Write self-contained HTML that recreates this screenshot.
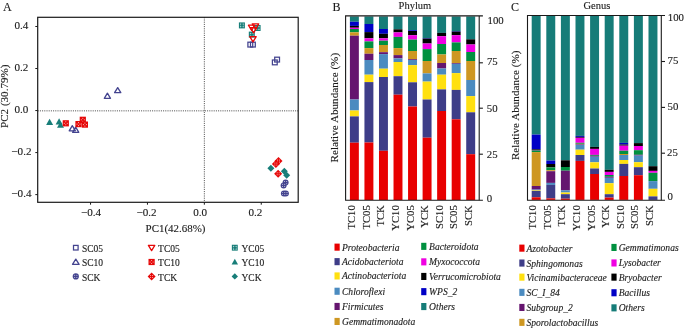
<!DOCTYPE html><html><head><meta charset="utf-8"><title>Figure</title>
<style>html,body{margin:0;padding:0;background:#fff;}svg{display:block;will-change:transform;}text{font-family:"Liberation Serif",serif;stroke:#222;stroke-width:0.12px;paint-order:stroke;}</style></head><body>
<svg width="685" height="329" viewBox="0 0 685 329">
<rect width="685" height="329" fill="#fff"/>
<text x="3.0" y="11.2" font-size="12" text-anchor="start" fill="#1a1a1a">A</text>
<line x1="37.7" y1="110.85" x2="298.2" y2="110.85" stroke="#333" stroke-width="0.9" stroke-dasharray="1,1.2"/>
<line x1="204.35" y1="17.3" x2="204.35" y2="202.3" stroke="#333" stroke-width="0.9" stroke-dasharray="1,1.2"/>
<rect x="37.7" y="17.3" width="260.5" height="185.0" fill="none" stroke="#1a1a1a" stroke-width="1.2"/>
<line x1="35.300000000000004" y1="26.489999999999995" x2="37.7" y2="26.489999999999995" stroke="#1a1a1a" stroke-width="1"/>
<text x="21.4" y="29.19" font-size="11.1" text-anchor="middle" fill="#1a1a1a">0.4</text>
<line x1="35.300000000000004" y1="68.52" x2="37.7" y2="68.52" stroke="#1a1a1a" stroke-width="1"/>
<text x="21.4" y="71.22" font-size="11.1" text-anchor="middle" fill="#1a1a1a">0.2</text>
<line x1="35.300000000000004" y1="110.55" x2="37.7" y2="110.55" stroke="#1a1a1a" stroke-width="1"/>
<text x="21.4" y="113.25" font-size="11.1" text-anchor="middle" fill="#1a1a1a">0.0</text>
<line x1="35.300000000000004" y1="152.57999999999998" x2="37.7" y2="152.57999999999998" stroke="#1a1a1a" stroke-width="1"/>
<text x="21.4" y="155.28" font-size="11.1" text-anchor="middle" fill="#1a1a1a">−0.2</text>
<line x1="35.300000000000004" y1="194.61" x2="37.7" y2="194.61" stroke="#1a1a1a" stroke-width="1"/>
<text x="21.4" y="197.31" font-size="11.1" text-anchor="middle" fill="#1a1a1a">−0.4</text>
<line x1="90.55" y1="202.3" x2="90.55" y2="204.70000000000002" stroke="#1a1a1a" stroke-width="1"/>
<text x="91.1" y="216.4" font-size="11.1" text-anchor="middle" fill="#1a1a1a">−0.4</text>
<line x1="147.45" y1="202.3" x2="147.45" y2="204.70000000000002" stroke="#1a1a1a" stroke-width="1"/>
<text x="146.5" y="216.4" font-size="11.1" text-anchor="middle" fill="#1a1a1a">−0.2</text>
<line x1="204.35" y1="202.3" x2="204.35" y2="204.70000000000002" stroke="#1a1a1a" stroke-width="1"/>
<text x="200.2" y="216.4" font-size="11.1" text-anchor="middle" fill="#1a1a1a">0.0</text>
<line x1="261.25" y1="202.3" x2="261.25" y2="204.70000000000002" stroke="#1a1a1a" stroke-width="1"/>
<text x="255.4" y="216.4" font-size="11.1" text-anchor="middle" fill="#1a1a1a">0.2</text>
<text x="145.6" y="231.7" font-size="10.95" text-anchor="start" fill="#1a1a1a">PC1(42.68%)</text>
<text x="8.2" y="128.0" font-size="11.1" text-anchor="start" transform="rotate(-90 8.2 128.0)" fill="#1a1a1a">PC2 (30.79%)</text>
<rect x="247.9" y="42.2" width="4.8" height="4.8" fill="#fff" fill-opacity="0" stroke="#43438f" stroke-width="1.25"/>
<rect x="250.5" y="42.2" width="4.8" height="4.8" fill="#fff" fill-opacity="0" stroke="#43438f" stroke-width="1.25"/>
<rect x="272.40000000000003" y="60.0" width="4.8" height="4.8" fill="#fff" fill-opacity="0" stroke="#43438f" stroke-width="1.25"/>
<rect x="274.70000000000005" y="57.2" width="4.8" height="4.8" fill="#fff" fill-opacity="0" stroke="#43438f" stroke-width="1.25"/>
<rect x="238.9" y="22.4" width="6.0" height="6.0" fill="#187e79"/>
<rect x="240.5" y="24.0" width="2.8" height="2.8" fill="none" stroke="#fff" stroke-width="0.4" stroke-opacity="0.35"/>
<circle cx="240.50" cy="24.00" r="0.55" fill="#fff" fill-opacity="0.8"/>
<circle cx="243.30" cy="24.00" r="0.55" fill="#fff" fill-opacity="0.8"/>
<circle cx="240.50" cy="26.80" r="0.55" fill="#fff" fill-opacity="0.8"/>
<circle cx="243.30" cy="26.80" r="0.55" fill="#fff" fill-opacity="0.8"/>
<rect x="254.60000000000002" y="25.0" width="6.0" height="6.0" fill="#187e79"/>
<rect x="256.20000000000005" y="26.6" width="2.8" height="2.8" fill="none" stroke="#fff" stroke-width="0.4" stroke-opacity="0.35"/>
<circle cx="256.20" cy="26.60" r="0.55" fill="#fff" fill-opacity="0.8"/>
<circle cx="259.00" cy="26.60" r="0.55" fill="#fff" fill-opacity="0.8"/>
<circle cx="256.20" cy="29.40" r="0.55" fill="#fff" fill-opacity="0.8"/>
<circle cx="259.00" cy="29.40" r="0.55" fill="#fff" fill-opacity="0.8"/>
<rect x="248.8" y="31.6" width="6.0" height="6.0" fill="#187e79"/>
<rect x="250.4" y="33.2" width="2.8" height="2.8" fill="none" stroke="#fff" stroke-width="0.4" stroke-opacity="0.35"/>
<circle cx="250.40" cy="33.20" r="0.55" fill="#fff" fill-opacity="0.8"/>
<circle cx="253.20" cy="33.20" r="0.55" fill="#fff" fill-opacity="0.8"/>
<circle cx="250.40" cy="36.00" r="0.55" fill="#fff" fill-opacity="0.8"/>
<circle cx="253.20" cy="36.00" r="0.55" fill="#fff" fill-opacity="0.8"/>
<path d="M248.4 25.215000000000003 L254.79999999999998 25.215000000000003 L251.6 30.515 Z" fill="none" stroke="#e60808" stroke-width="1.3" stroke-linejoin="round"/>
<path d="M252.3 23.814999999999998 L258.7 23.814999999999998 L255.5 29.115 Z" fill="none" stroke="#e60808" stroke-width="1.3" stroke-linejoin="round"/>
<path d="M250.4 27.615000000000002 L256.8 27.615000000000002 L253.6 32.915 Z" fill="none" stroke="#e60808" stroke-width="1.3" stroke-linejoin="round"/>
<path d="M249.8 36.615 L256.2 36.615 L253.0 41.915 Z" fill="none" stroke="#e60808" stroke-width="1.3" stroke-linejoin="round"/>
<path d="M107.4 93.195 L110.5 98.295 L104.30000000000001 98.295 Z" fill="none" stroke="#43438f" stroke-width="1.3" stroke-linejoin="round"/>
<path d="M117.7 87.595 L120.8 92.69500000000001 L114.60000000000001 92.69500000000001 Z" fill="none" stroke="#43438f" stroke-width="1.3" stroke-linejoin="round"/>
<path d="M72.3 125.695 L75.39999999999999 130.795 L69.2 130.795 Z" fill="none" stroke="#43438f" stroke-width="1.3" stroke-linejoin="round"/>
<path d="M75.7 127.195 L78.8 132.295 L72.60000000000001 132.295 Z" fill="none" stroke="#43438f" stroke-width="1.3" stroke-linejoin="round"/>
<path d="M49.6 118.69 L53.1 124.89 L46.1 124.89 Z" fill="#187e79"/>
<path d="M59.1 118.19 L62.6 124.39 L55.6 124.39 Z" fill="#187e79"/>
<path d="M60.5 121.49000000000001 L64.0 127.69000000000001 L57.0 127.69000000000001 Z" fill="#187e79"/>
<rect x="62.699999999999996" y="120.2" width="6.2" height="6.2" fill="#e60808"/>
<circle cx="65.80" cy="121.80" r="0.55" fill="#fff" fill-opacity="0.75"/>
<circle cx="64.30" cy="123.30" r="0.55" fill="#fff" fill-opacity="0.75"/>
<circle cx="67.30" cy="123.30" r="0.55" fill="#fff" fill-opacity="0.75"/>
<circle cx="65.80" cy="124.80" r="0.55" fill="#fff" fill-opacity="0.75"/>
<rect x="79.7" y="116.7" width="6.2" height="6.2" fill="#e60808"/>
<circle cx="82.80" cy="118.30" r="0.55" fill="#fff" fill-opacity="0.75"/>
<circle cx="81.30" cy="119.80" r="0.55" fill="#fff" fill-opacity="0.75"/>
<circle cx="84.30" cy="119.80" r="0.55" fill="#fff" fill-opacity="0.75"/>
<circle cx="82.80" cy="121.30" r="0.55" fill="#fff" fill-opacity="0.75"/>
<rect x="75.4" y="121.0" width="6.2" height="6.2" fill="#e60808"/>
<circle cx="78.50" cy="122.60" r="0.55" fill="#fff" fill-opacity="0.75"/>
<circle cx="77.00" cy="124.10" r="0.55" fill="#fff" fill-opacity="0.75"/>
<circle cx="80.00" cy="124.10" r="0.55" fill="#fff" fill-opacity="0.75"/>
<circle cx="78.50" cy="125.60" r="0.55" fill="#fff" fill-opacity="0.75"/>
<rect x="81.80000000000001" y="121.5" width="6.2" height="6.2" fill="#e60808"/>
<circle cx="84.90" cy="123.10" r="0.55" fill="#fff" fill-opacity="0.75"/>
<circle cx="83.40" cy="124.60" r="0.55" fill="#fff" fill-opacity="0.75"/>
<circle cx="86.40" cy="124.60" r="0.55" fill="#fff" fill-opacity="0.75"/>
<circle cx="84.90" cy="126.10" r="0.55" fill="#fff" fill-opacity="0.75"/>
<circle cx="285.6" cy="182.6" r="3.0" fill="#43438f"/>
<circle cx="284.50" cy="181.50" r="0.5" fill="#fff" fill-opacity="0.8"/>
<circle cx="286.70" cy="181.50" r="0.5" fill="#fff" fill-opacity="0.8"/>
<circle cx="284.50" cy="183.70" r="0.5" fill="#fff" fill-opacity="0.8"/>
<circle cx="286.70" cy="183.70" r="0.5" fill="#fff" fill-opacity="0.8"/>
<circle cx="283.6" cy="185.4" r="3.0" fill="#43438f"/>
<circle cx="282.50" cy="184.30" r="0.5" fill="#fff" fill-opacity="0.8"/>
<circle cx="284.70" cy="184.30" r="0.5" fill="#fff" fill-opacity="0.8"/>
<circle cx="282.50" cy="186.50" r="0.5" fill="#fff" fill-opacity="0.8"/>
<circle cx="284.70" cy="186.50" r="0.5" fill="#fff" fill-opacity="0.8"/>
<circle cx="283.9" cy="193.5" r="3.0" fill="#43438f"/>
<circle cx="282.80" cy="192.40" r="0.5" fill="#fff" fill-opacity="0.8"/>
<circle cx="285.00" cy="192.40" r="0.5" fill="#fff" fill-opacity="0.8"/>
<circle cx="282.80" cy="194.60" r="0.5" fill="#fff" fill-opacity="0.8"/>
<circle cx="285.00" cy="194.60" r="0.5" fill="#fff" fill-opacity="0.8"/>
<circle cx="285.9" cy="193.5" r="3.0" fill="#43438f"/>
<circle cx="284.80" cy="192.40" r="0.5" fill="#fff" fill-opacity="0.8"/>
<circle cx="287.00" cy="192.40" r="0.5" fill="#fff" fill-opacity="0.8"/>
<circle cx="284.80" cy="194.60" r="0.5" fill="#fff" fill-opacity="0.8"/>
<circle cx="287.00" cy="194.60" r="0.5" fill="#fff" fill-opacity="0.8"/>
<path d="M278.5 156.9 L282.5 160.9 L278.5 164.9 L274.5 160.9 Z" fill="#e60808"/>
<circle cx="277.50" cy="159.90" r="0.5" fill="#fff" fill-opacity="0.8"/>
<circle cx="279.50" cy="159.90" r="0.5" fill="#fff" fill-opacity="0.8"/>
<circle cx="277.50" cy="161.90" r="0.5" fill="#fff" fill-opacity="0.8"/>
<circle cx="279.50" cy="161.90" r="0.5" fill="#fff" fill-opacity="0.8"/>
<path d="M275.9 160.0 L279.9 164.0 L275.9 168.0 L271.9 164.0 Z" fill="#e60808"/>
<circle cx="274.90" cy="163.00" r="0.5" fill="#fff" fill-opacity="0.8"/>
<circle cx="276.90" cy="163.00" r="0.5" fill="#fff" fill-opacity="0.8"/>
<circle cx="274.90" cy="165.00" r="0.5" fill="#fff" fill-opacity="0.8"/>
<circle cx="276.90" cy="165.00" r="0.5" fill="#fff" fill-opacity="0.8"/>
<path d="M278.1 169.7 L282.1 173.7 L278.1 177.7 L274.1 173.7 Z" fill="#e60808"/>
<circle cx="277.10" cy="172.70" r="0.5" fill="#fff" fill-opacity="0.8"/>
<circle cx="279.10" cy="172.70" r="0.5" fill="#fff" fill-opacity="0.8"/>
<circle cx="277.10" cy="174.70" r="0.5" fill="#fff" fill-opacity="0.8"/>
<circle cx="279.10" cy="174.70" r="0.5" fill="#fff" fill-opacity="0.8"/>
<path d="M270.9 164.8 L274.4 168.3 L270.9 171.8 L267.4 168.3 Z" fill="#187e79"/>
<path d="M284.3 167.8 L287.8 171.3 L284.3 174.8 L280.8 171.3 Z" fill="#187e79"/>
<path d="M286.7 171.8 L290.2 175.3 L286.7 178.8 L283.2 175.3 Z" fill="#187e79"/>
<rect x="73.5" y="245.39999999999998" width="4.6" height="4.6" fill="#fff" fill-opacity="0" stroke="#43438f" stroke-width="1.25"/>
<text x="82.0" y="251.8" font-size="9.5" text-anchor="start" fill="#1a1a1a">SC05</text>
<path d="M75.8 259.14 L79.1 264.34 L72.5 264.34 Z" fill="none" stroke="#43438f" stroke-width="1.3" stroke-linejoin="round"/>
<text x="82.0" y="266.1" font-size="9.5" text-anchor="start" fill="#1a1a1a">SC10</text>
<circle cx="75.8" cy="276.4" r="3.1" fill="#43438f"/>
<circle cx="74.70" cy="275.30" r="0.5" fill="#fff" fill-opacity="0.8"/>
<circle cx="76.90" cy="275.30" r="0.5" fill="#fff" fill-opacity="0.8"/>
<circle cx="74.70" cy="277.50" r="0.5" fill="#fff" fill-opacity="0.8"/>
<circle cx="76.90" cy="277.50" r="0.5" fill="#fff" fill-opacity="0.8"/>
<text x="82.0" y="280.5" font-size="9.5" text-anchor="start" fill="#1a1a1a">SCK</text>
<path d="M148.4 245.315 L154.79999999999998 245.315 L151.6 250.61499999999998 Z" fill="none" stroke="#e60808" stroke-width="1.3" stroke-linejoin="round"/>
<text x="158.1" y="251.8" font-size="9.5" text-anchor="start" fill="#1a1a1a">TC05</text>
<rect x="148.5" y="258.9" width="6.2" height="6.2" fill="#e60808"/>
<circle cx="151.60" cy="260.50" r="0.55" fill="#fff" fill-opacity="0.75"/>
<circle cx="150.10" cy="262.00" r="0.55" fill="#fff" fill-opacity="0.75"/>
<circle cx="153.10" cy="262.00" r="0.55" fill="#fff" fill-opacity="0.75"/>
<circle cx="151.60" cy="263.50" r="0.55" fill="#fff" fill-opacity="0.75"/>
<text x="158.1" y="266.1" font-size="9.5" text-anchor="start" fill="#1a1a1a">TC10</text>
<path d="M151.6 272.4 L155.6 276.4 L151.6 280.4 L147.6 276.4 Z" fill="#e60808"/>
<circle cx="150.60" cy="275.40" r="0.5" fill="#fff" fill-opacity="0.8"/>
<circle cx="152.60" cy="275.40" r="0.5" fill="#fff" fill-opacity="0.8"/>
<circle cx="150.60" cy="277.40" r="0.5" fill="#fff" fill-opacity="0.8"/>
<circle cx="152.60" cy="277.40" r="0.5" fill="#fff" fill-opacity="0.8"/>
<text x="158.1" y="280.5" font-size="9.5" text-anchor="start" fill="#1a1a1a">TCK</text>
<rect x="231.85000000000002" y="244.75" width="5.9" height="5.9" fill="#187e79"/>
<rect x="233.4" y="246.29999999999998" width="2.8" height="2.8" fill="none" stroke="#fff" stroke-width="0.4" stroke-opacity="0.35"/>
<circle cx="233.40" cy="246.30" r="0.55" fill="#fff" fill-opacity="0.8"/>
<circle cx="236.20" cy="246.30" r="0.55" fill="#fff" fill-opacity="0.8"/>
<circle cx="233.40" cy="249.10" r="0.55" fill="#fff" fill-opacity="0.8"/>
<circle cx="236.20" cy="249.10" r="0.55" fill="#fff" fill-opacity="0.8"/>
<text x="241.5" y="251.8" font-size="9.5" text-anchor="start" fill="#1a1a1a">YC05</text>
<path d="M234.8 258.865 L238.0 264.565 L231.60000000000002 264.565 Z" fill="#187e79"/>
<text x="241.5" y="266.1" font-size="9.5" text-anchor="start" fill="#1a1a1a">YC10</text>
<path d="M234.8 273.2 L238.0 276.4 L234.8 279.59999999999997 L231.60000000000002 276.4 Z" fill="#187e79"/>
<text x="241.5" y="280.5" font-size="9.5" text-anchor="start" fill="#1a1a1a">YCK</text>
<text x="332.4" y="11.2" font-size="12" text-anchor="start" fill="#1a1a1a">B</text>
<text x="398.6" y="8.8" font-size="10.5" text-anchor="start" fill="#1a1a1a">Phylum</text>
<rect x="349.90" y="16.40" width="8.95" height="5.35" fill="#167c78"/>
<rect x="349.90" y="21.75" width="8.95" height="4.15" fill="#0000c6"/>
<rect x="349.90" y="25.90" width="8.95" height="1.85" fill="#000000"/>
<rect x="349.90" y="27.75" width="8.95" height="1.25" fill="#f000e2"/>
<rect x="349.90" y="29.00" width="8.95" height="3.30" fill="#00903f"/>
<rect x="349.90" y="32.30" width="8.95" height="3.40" fill="#ce9722"/>
<rect x="349.90" y="35.70" width="8.95" height="63.80" fill="#65156f"/>
<rect x="349.90" y="99.50" width="8.95" height="11.00" fill="#4b8bc0"/>
<rect x="349.90" y="110.50" width="8.95" height="5.90" fill="#ffe010"/>
<rect x="349.90" y="116.40" width="8.95" height="26.30" fill="#3e3d88"/>
<rect x="349.90" y="142.70" width="8.95" height="57.30" fill="#e80000"/>
<rect x="364.44" y="16.40" width="8.95" height="7.60" fill="#167c78"/>
<rect x="364.44" y="24.00" width="8.95" height="8.10" fill="#0000c6"/>
<rect x="364.44" y="32.10" width="8.95" height="6.20" fill="#000000"/>
<rect x="364.44" y="38.30" width="8.95" height="3.10" fill="#f000e2"/>
<rect x="364.44" y="41.40" width="8.95" height="6.70" fill="#00903f"/>
<rect x="364.44" y="48.10" width="8.95" height="5.65" fill="#ce9722"/>
<rect x="364.44" y="53.75" width="8.95" height="6.25" fill="#65156f"/>
<rect x="364.44" y="60.00" width="8.95" height="14.70" fill="#4b8bc0"/>
<rect x="364.44" y="74.70" width="8.95" height="7.40" fill="#ffe010"/>
<rect x="364.44" y="82.10" width="8.95" height="60.40" fill="#3e3d88"/>
<rect x="364.44" y="142.50" width="8.95" height="57.50" fill="#e80000"/>
<rect x="378.98" y="16.40" width="8.95" height="12.60" fill="#167c78"/>
<rect x="378.98" y="29.00" width="8.95" height="4.80" fill="#0000c6"/>
<rect x="378.98" y="33.80" width="8.95" height="4.50" fill="#000000"/>
<rect x="378.98" y="38.30" width="8.95" height="2.40" fill="#f000e2"/>
<rect x="378.98" y="40.70" width="8.95" height="4.30" fill="#00903f"/>
<rect x="378.98" y="45.00" width="8.95" height="7.20" fill="#ce9722"/>
<rect x="378.98" y="52.20" width="8.95" height="1.90" fill="#65156f"/>
<rect x="378.98" y="54.10" width="8.95" height="14.60" fill="#4b8bc0"/>
<rect x="378.98" y="68.70" width="8.95" height="8.30" fill="#ffe010"/>
<rect x="378.98" y="77.00" width="8.95" height="73.80" fill="#3e3d88"/>
<rect x="378.98" y="150.80" width="8.95" height="49.20" fill="#e80000"/>
<rect x="393.52" y="16.40" width="8.95" height="12.90" fill="#167c78"/>
<rect x="393.52" y="29.30" width="8.95" height="3.10" fill="#000000"/>
<rect x="393.52" y="32.40" width="8.95" height="4.50" fill="#f000e2"/>
<rect x="393.52" y="36.90" width="8.95" height="11.20" fill="#00903f"/>
<rect x="393.52" y="48.10" width="8.95" height="7.00" fill="#ce9722"/>
<rect x="393.52" y="55.10" width="8.95" height="3.30" fill="#65156f"/>
<rect x="393.52" y="58.40" width="8.95" height="3.60" fill="#4b8bc0"/>
<rect x="393.52" y="62.00" width="8.95" height="14.20" fill="#ffe010"/>
<rect x="393.52" y="76.20" width="8.95" height="18.50" fill="#3e3d88"/>
<rect x="393.52" y="94.70" width="8.95" height="105.30" fill="#e80000"/>
<rect x="408.06" y="16.40" width="8.95" height="13.80" fill="#167c78"/>
<rect x="408.06" y="30.20" width="8.95" height="0.80" fill="#0000c6"/>
<rect x="408.06" y="31.00" width="8.95" height="4.20" fill="#000000"/>
<rect x="408.06" y="35.20" width="8.95" height="4.40" fill="#f000e2"/>
<rect x="408.06" y="39.60" width="8.95" height="11.40" fill="#00903f"/>
<rect x="408.06" y="51.00" width="8.95" height="8.20" fill="#ce9722"/>
<rect x="408.06" y="59.20" width="8.95" height="0.80" fill="#65156f"/>
<rect x="408.06" y="60.00" width="8.95" height="5.10" fill="#4b8bc0"/>
<rect x="408.06" y="65.10" width="8.95" height="17.20" fill="#ffe010"/>
<rect x="408.06" y="82.30" width="8.95" height="24.20" fill="#3e3d88"/>
<rect x="408.06" y="106.50" width="8.95" height="93.50" fill="#e80000"/>
<rect x="422.60" y="16.40" width="8.95" height="21.60" fill="#167c78"/>
<rect x="422.60" y="38.00" width="8.95" height="0.60" fill="#0000c6"/>
<rect x="422.60" y="38.60" width="8.95" height="4.90" fill="#000000"/>
<rect x="422.60" y="43.50" width="8.95" height="5.60" fill="#f000e2"/>
<rect x="422.60" y="49.10" width="8.95" height="11.90" fill="#00903f"/>
<rect x="422.60" y="61.00" width="8.95" height="12.40" fill="#ce9722"/>
<rect x="422.60" y="73.40" width="8.95" height="8.20" fill="#4b8bc0"/>
<rect x="422.60" y="81.60" width="8.95" height="17.90" fill="#ffe010"/>
<rect x="422.60" y="99.50" width="8.95" height="38.20" fill="#3e3d88"/>
<rect x="422.60" y="137.70" width="8.95" height="62.30" fill="#e80000"/>
<rect x="437.14" y="16.40" width="8.95" height="16.50" fill="#167c78"/>
<rect x="437.14" y="32.90" width="8.95" height="3.30" fill="#000000"/>
<rect x="437.14" y="36.20" width="8.95" height="7.80" fill="#f000e2"/>
<rect x="437.14" y="44.00" width="8.95" height="10.50" fill="#00903f"/>
<rect x="437.14" y="54.50" width="8.95" height="8.50" fill="#ce9722"/>
<rect x="437.14" y="63.00" width="8.95" height="5.50" fill="#65156f"/>
<rect x="437.14" y="68.50" width="8.95" height="6.20" fill="#4b8bc0"/>
<rect x="437.14" y="74.70" width="8.95" height="14.70" fill="#ffe010"/>
<rect x="437.14" y="89.40" width="8.95" height="21.60" fill="#3e3d88"/>
<rect x="437.14" y="111.00" width="8.95" height="89.00" fill="#e80000"/>
<rect x="451.68" y="16.40" width="8.95" height="14.60" fill="#167c78"/>
<rect x="451.68" y="31.00" width="8.95" height="0.60" fill="#0000c6"/>
<rect x="451.68" y="31.60" width="8.95" height="3.60" fill="#000000"/>
<rect x="451.68" y="35.20" width="8.95" height="7.20" fill="#f000e2"/>
<rect x="451.68" y="42.40" width="8.95" height="8.60" fill="#00903f"/>
<rect x="451.68" y="51.00" width="8.95" height="12.00" fill="#ce9722"/>
<rect x="451.68" y="63.00" width="8.95" height="0.80" fill="#65156f"/>
<rect x="451.68" y="63.80" width="8.95" height="9.30" fill="#4b8bc0"/>
<rect x="451.68" y="73.10" width="8.95" height="16.80" fill="#ffe010"/>
<rect x="451.68" y="89.90" width="8.95" height="29.40" fill="#3e3d88"/>
<rect x="451.68" y="119.30" width="8.95" height="80.70" fill="#e80000"/>
<rect x="466.22" y="16.40" width="8.95" height="22.90" fill="#167c78"/>
<rect x="466.22" y="39.30" width="8.95" height="5.20" fill="#000000"/>
<rect x="466.22" y="44.50" width="8.95" height="7.50" fill="#f000e2"/>
<rect x="466.22" y="52.00" width="8.95" height="9.00" fill="#00903f"/>
<rect x="466.22" y="61.00" width="8.95" height="19.00" fill="#ce9722"/>
<rect x="466.22" y="80.00" width="8.95" height="16.10" fill="#4b8bc0"/>
<rect x="466.22" y="96.10" width="8.95" height="16.20" fill="#ffe010"/>
<rect x="466.22" y="112.30" width="8.95" height="41.90" fill="#3e3d88"/>
<rect x="466.22" y="154.20" width="8.95" height="45.80" fill="#e80000"/>
<path d="M482.9 15.9 H345.6 V200.2 H482.9" fill="none" stroke="#1a1a1a" stroke-width="1.1"/>
<line x1="479.2" y1="15.9" x2="479.2" y2="200.2" stroke="#1a1a1a" stroke-width="1.1"/>
<line x1="479.2" y1="62.8" x2="482.9" y2="62.8" stroke="#1a1a1a" stroke-width="1.1"/>
<line x1="479.2" y1="108.2" x2="482.9" y2="108.2" stroke="#1a1a1a" stroke-width="1.1"/>
<line x1="479.2" y1="154.2" x2="482.9" y2="154.2" stroke="#1a1a1a" stroke-width="1.1"/>
<text x="487.5" y="23.9" font-size="10.8" text-anchor="start" fill="#1a1a1a">100</text>
<text x="486.9" y="65.3" font-size="10.8" text-anchor="start" fill="#1a1a1a">75</text>
<text x="486.8" y="112.1" font-size="10.8" text-anchor="start" fill="#1a1a1a">50</text>
<text x="486.8" y="157.9" font-size="10.8" text-anchor="start" fill="#1a1a1a">25</text>
<text x="486.7" y="202.3" font-size="10.8" text-anchor="start" fill="#1a1a1a">0</text>
<text x="338.2" y="162.4" font-size="11.15" text-anchor="start" transform="rotate(-90 338.2 162.4)" fill="#1a1a1a">Relative Abundance (%)</text>
<text x="355.38" y="205.2" font-size="10.7" text-anchor="end" transform="rotate(-90 355.38 205.2)" fill="#1a1a1a">TC10</text>
<text x="369.92" y="205.2" font-size="10.7" text-anchor="end" transform="rotate(-90 369.92 205.2)" fill="#1a1a1a">TC05</text>
<text x="384.45" y="205.2" font-size="10.7" text-anchor="end" transform="rotate(-90 384.45 205.2)" fill="#1a1a1a">TCK</text>
<text x="399.0" y="205.2" font-size="10.7" text-anchor="end" transform="rotate(-90 399.0 205.2)" fill="#1a1a1a">YC10</text>
<text x="413.53" y="205.2" font-size="10.7" text-anchor="end" transform="rotate(-90 413.53 205.2)" fill="#1a1a1a">YC05</text>
<text x="428.07" y="205.2" font-size="10.7" text-anchor="end" transform="rotate(-90 428.07 205.2)" fill="#1a1a1a">YCK</text>
<text x="442.62" y="205.2" font-size="10.7" text-anchor="end" transform="rotate(-90 442.62 205.2)" fill="#1a1a1a">SC10</text>
<text x="457.15" y="205.2" font-size="10.7" text-anchor="end" transform="rotate(-90 457.15 205.2)" fill="#1a1a1a">SC05</text>
<text x="471.69" y="205.2" font-size="10.7" text-anchor="end" transform="rotate(-90 471.69 205.2)" fill="#1a1a1a">SCK</text>
<rect x="334.5" y="243.6" width="5.2" height="7.1" fill="#e80000"/>
<text x="342.0" y="250.6" font-size="9.55" text-anchor="start" font-style="italic" fill="#1a1a1a">Proteobacteria</text>
<rect x="334.5" y="258.09999999999997" width="5.2" height="7.1" fill="#3e3d88"/>
<text x="342.0" y="265.1" font-size="9.55" text-anchor="start" font-style="italic" fill="#1a1a1a">Acidobacteriota</text>
<rect x="334.5" y="272.4" width="5.2" height="7.1" fill="#ffe010"/>
<text x="342.0" y="279.4" font-size="9.55" text-anchor="start" font-style="italic" fill="#1a1a1a">Actinobacteriota</text>
<rect x="334.5" y="287.7" width="5.2" height="7.1" fill="#4b8bc0"/>
<text x="342.0" y="294.7" font-size="9.55" text-anchor="start" font-style="italic" fill="#1a1a1a">Chloroflexi</text>
<rect x="334.5" y="302.9" width="5.2" height="7.1" fill="#65156f"/>
<text x="342.0" y="309.9" font-size="9.55" text-anchor="start" font-style="italic" fill="#1a1a1a">Firmicutes</text>
<rect x="334.5" y="317.9" width="5.2" height="7.1" fill="#ce9722"/>
<text x="342.0" y="324.9" font-size="9.55" text-anchor="start" font-style="italic" fill="#1a1a1a">Gemmatimonadota</text>
<rect x="421.2" y="242.8" width="5.2" height="7.1" fill="#00903f"/>
<text x="429.1" y="249.8" font-size="9.55" text-anchor="start" font-style="italic" fill="#1a1a1a">Bacteroidota</text>
<rect x="421.2" y="258.29999999999995" width="5.2" height="7.1" fill="#f000e2"/>
<text x="429.1" y="265.3" font-size="9.55" text-anchor="start" font-style="italic" fill="#1a1a1a">Myxococcota</text>
<rect x="421.2" y="272.9" width="5.2" height="7.1" fill="#000000"/>
<text x="429.1" y="279.9" font-size="9.55" text-anchor="start" font-style="italic" fill="#1a1a1a">Verrucomicrobiota</text>
<rect x="421.2" y="288.09999999999997" width="5.2" height="7.1" fill="#0000c6"/>
<text x="429.1" y="295.1" font-size="9.55" text-anchor="start" font-style="italic" fill="#1a1a1a">WPS_2</text>
<rect x="421.2" y="303.0" width="5.2" height="7.1" fill="#167c78"/>
<text x="429.1" y="310.0" font-size="9.55" text-anchor="start" font-style="italic" fill="#1a1a1a">Others</text>
<text x="511.0" y="11.2" font-size="12" text-anchor="start" fill="#1a1a1a">C</text>
<text x="583.5" y="8.8" font-size="10.5" text-anchor="start" fill="#1a1a1a">Genus</text>
<rect x="531.70" y="16.00" width="8.95" height="118.60" fill="#167c78"/>
<rect x="531.70" y="134.60" width="8.95" height="14.70" fill="#0000c6"/>
<rect x="531.70" y="149.30" width="8.95" height="0.70" fill="#000000"/>
<rect x="531.70" y="150.00" width="8.95" height="0.60" fill="#65156f"/>
<rect x="531.70" y="150.60" width="8.95" height="1.50" fill="#00903f"/>
<rect x="531.70" y="152.10" width="8.95" height="33.90" fill="#ce9722"/>
<rect x="531.70" y="186.00" width="8.95" height="3.60" fill="#65156f"/>
<rect x="531.70" y="189.60" width="8.95" height="0.70" fill="#4b8bc0"/>
<rect x="531.70" y="190.30" width="8.95" height="0.60" fill="#ffe010"/>
<rect x="531.70" y="190.90" width="8.95" height="6.40" fill="#3e3d88"/>
<rect x="531.70" y="197.30" width="8.95" height="2.60" fill="#e80000"/>
<rect x="546.30" y="16.00" width="8.95" height="144.60" fill="#167c78"/>
<rect x="546.30" y="160.60" width="8.95" height="3.40" fill="#0000c6"/>
<rect x="546.30" y="164.00" width="8.95" height="3.40" fill="#000000"/>
<rect x="546.30" y="167.40" width="8.95" height="2.80" fill="#00903f"/>
<rect x="546.30" y="170.20" width="8.95" height="1.00" fill="#ce9722"/>
<rect x="546.30" y="171.20" width="8.95" height="11.70" fill="#65156f"/>
<rect x="546.30" y="182.90" width="8.95" height="2.00" fill="#4b8bc0"/>
<rect x="546.30" y="184.90" width="8.95" height="13.50" fill="#3e3d88"/>
<rect x="546.30" y="198.40" width="8.95" height="1.50" fill="#e80000"/>
<rect x="560.90" y="16.00" width="8.95" height="144.30" fill="#167c78"/>
<rect x="560.90" y="160.30" width="8.95" height="6.70" fill="#000000"/>
<rect x="560.90" y="167.00" width="8.95" height="3.70" fill="#00903f"/>
<rect x="560.90" y="170.70" width="8.95" height="19.70" fill="#65156f"/>
<rect x="560.90" y="190.40" width="8.95" height="2.10" fill="#4b8bc0"/>
<rect x="560.90" y="192.50" width="8.95" height="1.70" fill="#ffe010"/>
<rect x="560.90" y="194.20" width="8.95" height="4.50" fill="#3e3d88"/>
<rect x="560.90" y="198.70" width="8.95" height="1.20" fill="#e80000"/>
<rect x="575.50" y="16.00" width="8.95" height="119.90" fill="#167c78"/>
<rect x="575.50" y="135.90" width="8.95" height="1.00" fill="#0000c6"/>
<rect x="575.50" y="136.90" width="8.95" height="0.90" fill="#000000"/>
<rect x="575.50" y="137.80" width="8.95" height="5.00" fill="#f000e2"/>
<rect x="575.50" y="142.80" width="8.95" height="1.00" fill="#00903f"/>
<rect x="575.50" y="143.80" width="8.95" height="0.50" fill="#ce9722"/>
<rect x="575.50" y="144.30" width="8.95" height="0.60" fill="#65156f"/>
<rect x="575.50" y="144.90" width="8.95" height="4.80" fill="#4b8bc0"/>
<rect x="575.50" y="149.70" width="8.95" height="5.30" fill="#ffe010"/>
<rect x="575.50" y="155.00" width="8.95" height="5.90" fill="#3e3d88"/>
<rect x="575.50" y="160.90" width="8.95" height="39.00" fill="#e80000"/>
<rect x="590.10" y="16.00" width="8.95" height="130.90" fill="#167c78"/>
<rect x="590.10" y="146.90" width="8.95" height="2.00" fill="#000000"/>
<rect x="590.10" y="148.90" width="8.95" height="6.00" fill="#f000e2"/>
<rect x="590.10" y="154.90" width="8.95" height="0.90" fill="#00903f"/>
<rect x="590.10" y="155.80" width="8.95" height="0.90" fill="#65156f"/>
<rect x="590.10" y="156.70" width="8.95" height="5.60" fill="#4b8bc0"/>
<rect x="590.10" y="162.30" width="8.95" height="6.20" fill="#ffe010"/>
<rect x="590.10" y="168.50" width="8.95" height="5.50" fill="#3e3d88"/>
<rect x="590.10" y="174.00" width="8.95" height="25.90" fill="#e80000"/>
<rect x="604.70" y="16.00" width="8.95" height="153.80" fill="#167c78"/>
<rect x="604.70" y="169.80" width="8.95" height="2.10" fill="#000000"/>
<rect x="604.70" y="171.90" width="8.95" height="3.10" fill="#f000e2"/>
<rect x="604.70" y="175.00" width="8.95" height="1.80" fill="#00903f"/>
<rect x="604.70" y="176.80" width="8.95" height="1.00" fill="#65156f"/>
<rect x="604.70" y="177.80" width="8.95" height="5.40" fill="#4b8bc0"/>
<rect x="604.70" y="183.20" width="8.95" height="11.00" fill="#ffe010"/>
<rect x="604.70" y="194.20" width="8.95" height="3.40" fill="#3e3d88"/>
<rect x="604.70" y="197.60" width="8.95" height="2.30" fill="#e80000"/>
<rect x="619.30" y="16.00" width="8.95" height="126.90" fill="#167c78"/>
<rect x="619.30" y="142.90" width="8.95" height="1.60" fill="#0000c6"/>
<rect x="619.30" y="144.50" width="8.95" height="1.20" fill="#000000"/>
<rect x="619.30" y="145.70" width="8.95" height="5.00" fill="#f000e2"/>
<rect x="619.30" y="150.70" width="8.95" height="3.30" fill="#00903f"/>
<rect x="619.30" y="154.00" width="8.95" height="1.00" fill="#ce9722"/>
<rect x="619.30" y="155.00" width="8.95" height="5.00" fill="#4b8bc0"/>
<rect x="619.30" y="160.00" width="8.95" height="3.90" fill="#ffe010"/>
<rect x="619.30" y="163.90" width="8.95" height="12.10" fill="#3e3d88"/>
<rect x="619.30" y="176.00" width="8.95" height="23.90" fill="#e80000"/>
<rect x="633.90" y="16.00" width="8.95" height="127.10" fill="#167c78"/>
<rect x="633.90" y="143.10" width="8.95" height="2.90" fill="#000000"/>
<rect x="633.90" y="146.00" width="8.95" height="4.20" fill="#f000e2"/>
<rect x="633.90" y="150.20" width="8.95" height="4.60" fill="#00903f"/>
<rect x="633.90" y="154.80" width="8.95" height="0.80" fill="#65156f"/>
<rect x="633.90" y="155.60" width="8.95" height="6.60" fill="#4b8bc0"/>
<rect x="633.90" y="162.20" width="8.95" height="5.00" fill="#ffe010"/>
<rect x="633.90" y="167.20" width="8.95" height="8.00" fill="#3e3d88"/>
<rect x="633.90" y="175.20" width="8.95" height="24.70" fill="#e80000"/>
<rect x="648.50" y="16.00" width="8.95" height="150.20" fill="#167c78"/>
<rect x="648.50" y="166.20" width="8.95" height="4.70" fill="#000000"/>
<rect x="648.50" y="170.90" width="8.95" height="1.90" fill="#f000e2"/>
<rect x="648.50" y="172.80" width="8.95" height="8.30" fill="#00903f"/>
<rect x="648.50" y="181.10" width="8.95" height="7.70" fill="#4b8bc0"/>
<rect x="648.50" y="188.80" width="8.95" height="7.60" fill="#ffe010"/>
<rect x="648.50" y="196.40" width="8.95" height="3.50" fill="#3e3d88"/>
<path d="M665.0 15.5 H527.5 V200.2 H665.0" fill="none" stroke="#1a1a1a" stroke-width="1.1"/>
<line x1="661.3" y1="15.5" x2="661.3" y2="200.2" stroke="#1a1a1a" stroke-width="1.1"/>
<line x1="661.3" y1="61.5" x2="665.0" y2="61.5" stroke="#1a1a1a" stroke-width="1.1"/>
<line x1="661.3" y1="107.4" x2="665.0" y2="107.4" stroke="#1a1a1a" stroke-width="1.1"/>
<line x1="661.3" y1="153.2" x2="665.0" y2="153.2" stroke="#1a1a1a" stroke-width="1.1"/>
<text x="667.8" y="21.0" font-size="10.8" text-anchor="start" fill="#1a1a1a">100</text>
<text x="667.5" y="63.5" font-size="10.8" text-anchor="start" fill="#1a1a1a">75</text>
<text x="667.5" y="110.4" font-size="10.8" text-anchor="start" fill="#1a1a1a">50</text>
<text x="667.0" y="156.3" font-size="10.8" text-anchor="start" fill="#1a1a1a">25</text>
<text x="667.6" y="199.9" font-size="10.8" text-anchor="start" fill="#1a1a1a">0</text>
<text x="519.3" y="160.1" font-size="11.15" text-anchor="start" transform="rotate(-90 519.3 160.1)" fill="#1a1a1a">Relative Abundance (%)</text>
<text x="536.18" y="205.2" font-size="10.7" text-anchor="end" transform="rotate(-90 536.18 205.2)" fill="#1a1a1a">TC10</text>
<text x="550.78" y="205.2" font-size="10.7" text-anchor="end" transform="rotate(-90 550.78 205.2)" fill="#1a1a1a">TC05</text>
<text x="565.38" y="205.2" font-size="10.7" text-anchor="end" transform="rotate(-90 565.38 205.2)" fill="#1a1a1a">TCK</text>
<text x="579.98" y="205.2" font-size="10.7" text-anchor="end" transform="rotate(-90 579.98 205.2)" fill="#1a1a1a">YC10</text>
<text x="594.58" y="205.2" font-size="10.7" text-anchor="end" transform="rotate(-90 594.58 205.2)" fill="#1a1a1a">YC05</text>
<text x="609.18" y="205.2" font-size="10.7" text-anchor="end" transform="rotate(-90 609.18 205.2)" fill="#1a1a1a">YCK</text>
<text x="623.78" y="205.2" font-size="10.7" text-anchor="end" transform="rotate(-90 623.78 205.2)" fill="#1a1a1a">SC10</text>
<text x="638.38" y="205.2" font-size="10.7" text-anchor="end" transform="rotate(-90 638.38 205.2)" fill="#1a1a1a">SC05</text>
<text x="652.98" y="205.2" font-size="10.7" text-anchor="end" transform="rotate(-90 652.98 205.2)" fill="#1a1a1a">SCK</text>
<rect x="519.3" y="244.6" width="5.2" height="7.1" fill="#e80000"/>
<text x="526.4" y="251.6" font-size="9.55" text-anchor="start" font-style="italic" fill="#1a1a1a">Azotobacter</text>
<rect x="519.3" y="259.5" width="5.2" height="7.1" fill="#3e3d88"/>
<text x="526.4" y="266.5" font-size="9.55" text-anchor="start" font-style="italic" fill="#1a1a1a">Sphingomonas</text>
<rect x="519.3" y="273.59999999999997" width="5.2" height="7.1" fill="#ffe010"/>
<text x="526.4" y="280.6" font-size="9.55" text-anchor="start" font-style="italic" fill="#1a1a1a">Vicinamibacteraceae</text>
<rect x="519.3" y="288.79999999999995" width="5.2" height="7.1" fill="#4b8bc0"/>
<text x="526.4" y="295.8" font-size="9.55" text-anchor="start" font-style="italic" fill="#1a1a1a">SC_I_84</text>
<rect x="519.3" y="303.9" width="5.2" height="7.1" fill="#65156f"/>
<text x="526.4" y="310.9" font-size="9.55" text-anchor="start" font-style="italic" fill="#1a1a1a">Subgroup_2</text>
<rect x="519.3" y="318.79999999999995" width="5.2" height="7.1" fill="#ce9722"/>
<text x="526.4" y="325.8" font-size="9.55" text-anchor="start" font-style="italic" fill="#1a1a1a">Sporolactobacillus</text>
<rect x="611.4" y="243.9" width="5.2" height="7.1" fill="#00903f"/>
<text x="618.7" y="250.9" font-size="9.55" text-anchor="start" font-style="italic" fill="#1a1a1a">Gemmatimonas</text>
<rect x="611.4" y="259.4" width="5.2" height="7.1" fill="#f000e2"/>
<text x="618.7" y="266.4" font-size="9.55" text-anchor="start" font-style="italic" fill="#1a1a1a">Lysobacter</text>
<rect x="611.4" y="273.59999999999997" width="5.2" height="7.1" fill="#000000"/>
<text x="618.7" y="280.6" font-size="9.55" text-anchor="start" font-style="italic" fill="#1a1a1a">Bryobacter</text>
<rect x="611.4" y="289.2" width="5.2" height="7.1" fill="#0000c6"/>
<text x="618.7" y="296.2" font-size="9.55" text-anchor="start" font-style="italic" fill="#1a1a1a">Bacillus</text>
<rect x="611.4" y="304.29999999999995" width="5.2" height="7.1" fill="#167c78"/>
<text x="618.7" y="311.3" font-size="9.55" text-anchor="start" font-style="italic" fill="#1a1a1a">Others</text>
</svg></body></html>
